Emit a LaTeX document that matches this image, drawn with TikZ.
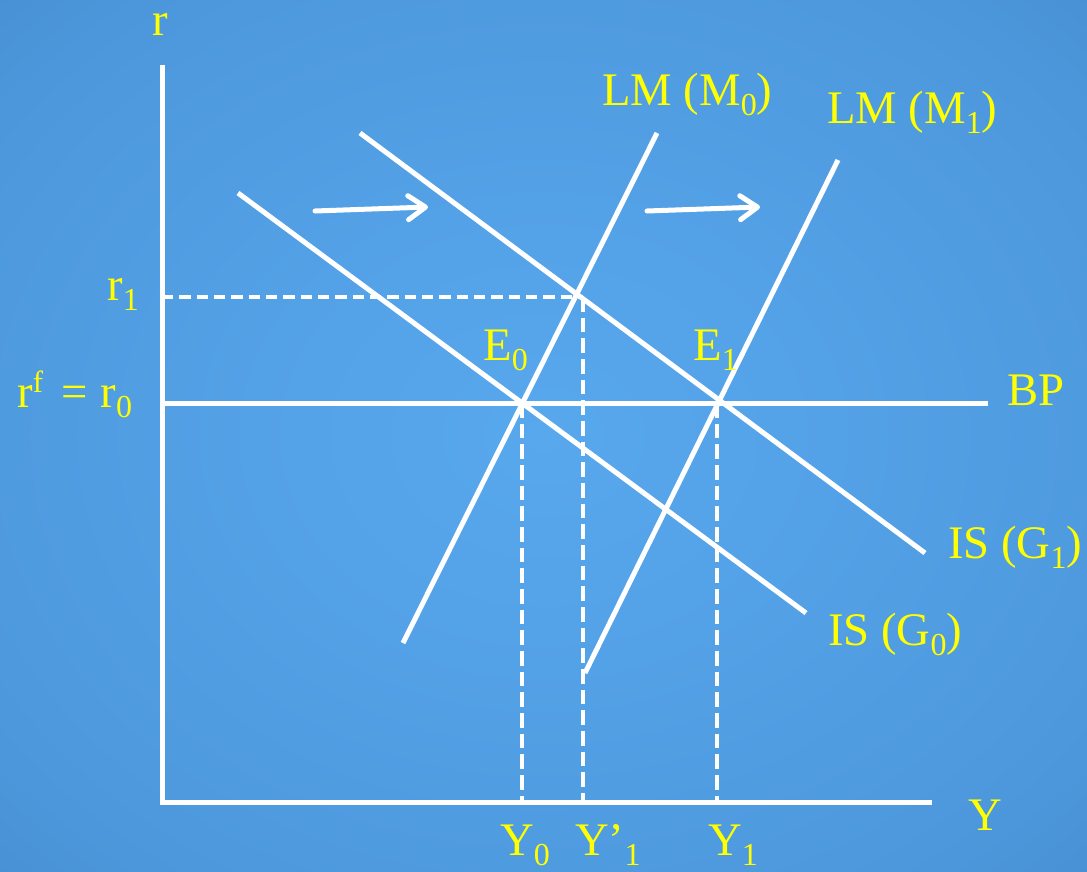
\documentclass[tikz,border=0pt]{standalone}
\usepackage{fontspec}
\setmainfont{Liberation Serif}
\usetikzlibrary{arrows.meta}
\definecolor{bgin}{RGB}{88,168,238}
\definecolor{bgmid}{RGB}{78,153,222}
\definecolor{bgout}{RGB}{62,130,194}
\definecolor{lab}{RGB}{255,255,0}
\pgfdeclareradialshading{bgshade}{\pgfpoint{0bp}{0bp}}{color(0bp)=(bgin); color(28bp)=(bgmid); color(50bp)=(bgout)}
\newcommand{\sbs}[1]{\raisebox{-8pt}{\fontsize{24}{24}\selectfont #1}}
\newcommand{\sps}[1]{\raisebox{11pt}{\fontsize{23}{23}\selectfont #1}}
\tikzset{
  curve/.style={draw=white, line width=3.75pt},
  axis/.style={draw=white, line width=3.75pt},
  guide/.style={draw=white, line width=3pt},
  hdash/.style={guide, dash pattern=on 8.5pt off 4.5pt},
  vdash/.style={guide, dash pattern=on 11pt off 4.5pt},
  shift arrow/.style={draw=white, line width=3.75pt, line cap=round,
    -{Straight Barb[length=13pt,width=18pt,round]}},
  lbl/.style={text=lab, inner sep=0pt, anchor=base west, font=\fontsize{35}{40}\selectfont}
}
\begin{document}
\begin{tikzpicture}[x=0.75pt,y=-0.75pt]
\useasboundingbox (0,0) rectangle (1087,871);
\shade[shading=bgshade] (0,0) rectangle (1087,871);
% axes
\coordinate (org) at (162,802);
\coordinate (ytop) at (162,65);
\coordinate (xend) at (932,802);
\draw[axis] (ytop) -- (org) -- (xend);
% points
\coordinate (E0) at (522,403);
\coordinate (E1) at (717,403);
\coordinate (A) at (583,297);
\coordinate (r1ax) at (162,297);
\coordinate (r0ax) at (162,403);
\coordinate (bpend) at (988,403);
\coordinate (y0ax) at (522,800);
\coordinate (y1pax) at (583,800);
\coordinate (y1ax) at (717,800);
% guides
\draw[hdash] (r1ax) -- (A);
\draw[vdash] (A) -- (y1pax);
\draw[vdash] (E0) -- (y0ax);
\draw[vdash] (E1) -- (y1ax);
% BP
\draw[curve] (r0ax) -- (bpend);
% LM curves
\coordinate (lm0a) at (403,643);
\coordinate (lm0b) at (657,133);
\coordinate (lm1a) at (585,673);
\coordinate (lm1b) at (838,160);
\draw[curve] (lm0a) -- (lm0b);
\draw[curve] (lm1a) -- (lm1b);
% IS curves
\coordinate (is0a) at (238,193);
\coordinate (is0b) at (806,613);
\coordinate (is1a) at (360,133);
\coordinate (is1b) at (925,553);
\draw[curve] (is0a) -- (is0b);
\draw[curve] (is1a) -- (is1b);
% shift arrows
\coordinate (sa1) at (315,211);
\coordinate (sa2) at (428,207);
\coordinate (sb1) at (647,211);
\coordinate (sb2) at (760,207);
\draw[shift arrow] (sa1) -- (sa2);
\draw[shift arrow] (sb1) -- (sb2);
% labels
\node[lbl, anchor=base] (lr) at (160,35) {r};
\node[lbl] (lY) at (968,830) {Y};
\node[lbl] (llm0) at (602,105) {LM (M\sbs{0})};
\node[lbl] (llm1) at (827,123) {LM (M\sbs{1})};
\node[lbl] (lr1) at (107,300) {r\sbs{1}};
\node[lbl] (lr0) at (17,407) {r\sps{f}\hspace{5pt} = \hspace{1pt}r\sbs{0}};
\node[lbl] (lE0) at (483,360) {E\sbs{0}};
\node[lbl] (lE1) at (693,360) {E\sbs{1}};
\node[lbl] (lbp) at (1007,405) {BP};
\node[lbl] (lis1) at (948,558) {IS (G\sbs{1})};
\node[lbl] (lis0) at (828,645) {IS (G\sbs{0})};
\node[lbl] (lY0) at (500,855) {Y\sbs{0}};
\node[lbl] (lY1p) at (575,855) {Y’\sbs{1}};
\node[lbl] (lY1) at (708,855) {Y\sbs{1}};
\end{tikzpicture}
\end{document}
